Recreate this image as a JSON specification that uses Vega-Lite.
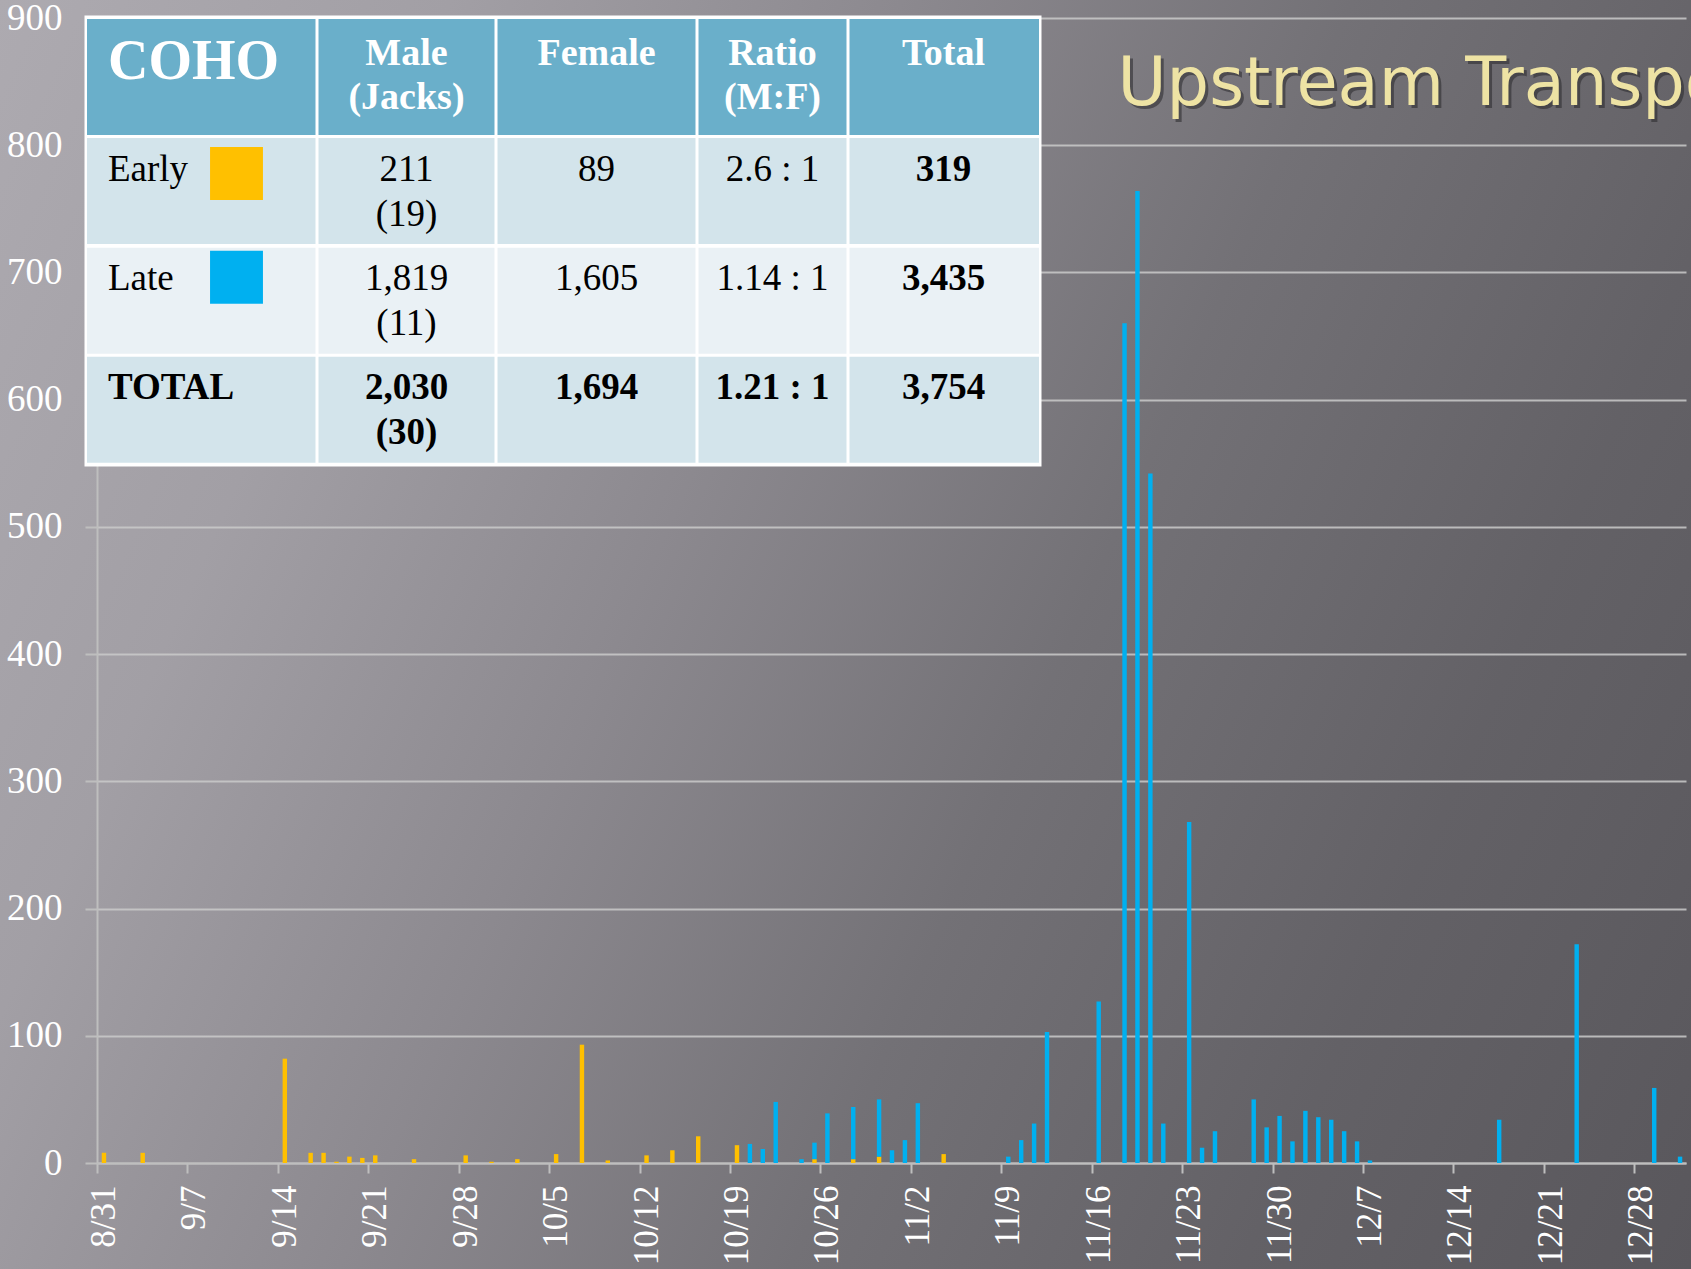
{
  "$schema": "https://vega.github.io/schema/vega-lite/v6.json",
  "width": 1691,
  "height": 1269,
  "autosize": {"type": "none"},
  "padding": 0,
  "background": "#7F7D83",
  "config": {
    "view": {
      "stroke": null,
      "fill": {
        "gradient": "linear", "x1": 0, "y1": 0, "x2": 1.2, "y2": 0.4,
        "stops": [
          {"offset": 0, "color": "#ADAAB0"},
          {"offset": 0.2, "color": "#A29FA5"},
          {"offset": 0.4, "color": "#8C898F"},
          {"offset": 0.6, "color": "#737176"},
          {"offset": 0.8, "color": "#636166"},
          {"offset": 1, "color": "#59575C"}
        ]
      }
    }
  },
  "datasets": {
    "bars": [
      {"date": "2014/08/31", "run": "Early", "count": 8},
      {"date": "2014/09/03", "run": "Early", "count": 8},
      {"date": "2014/09/14", "run": "Early", "count": 82},
      {"date": "2014/09/16", "run": "Early", "count": 8},
      {"date": "2014/09/17", "run": "Early", "count": 8},
      {"date": "2014/09/18", "run": "Early", "count": 1},
      {"date": "2014/09/19", "run": "Early", "count": 5},
      {"date": "2014/09/20", "run": "Early", "count": 4},
      {"date": "2014/09/21", "run": "Early", "count": 6},
      {"date": "2014/09/24", "run": "Early", "count": 3},
      {"date": "2014/09/28", "run": "Early", "count": 6},
      {"date": "2014/09/30", "run": "Early", "count": 1},
      {"date": "2014/10/02", "run": "Early", "count": 3},
      {"date": "2014/10/05", "run": "Early", "count": 7},
      {"date": "2014/10/07", "run": "Early", "count": 93},
      {"date": "2014/10/09", "run": "Early", "count": 2},
      {"date": "2014/10/12", "run": "Early", "count": 6},
      {"date": "2014/10/14", "run": "Early", "count": 10},
      {"date": "2014/10/16", "run": "Early", "count": 21},
      {"date": "2014/10/19", "run": "Early", "count": 14},
      {"date": "2014/10/25", "run": "Early", "count": 3},
      {"date": "2014/10/28", "run": "Early", "count": 3},
      {"date": "2014/10/30", "run": "Early", "count": 5},
      {"date": "2014/11/04", "run": "Early", "count": 7},
      {"date": "2014/10/20", "run": "Late", "count": 15},
      {"date": "2014/10/21", "run": "Late", "count": 11},
      {"date": "2014/10/22", "run": "Late", "count": 48},
      {"date": "2014/10/24", "run": "Late", "count": 3},
      {"date": "2014/10/25", "run": "Late", "count": 13},
      {"date": "2014/10/26", "run": "Late", "count": 39},
      {"date": "2014/10/28", "run": "Late", "count": 41},
      {"date": "2014/10/30", "run": "Late", "count": 45},
      {"date": "2014/10/31", "run": "Late", "count": 10},
      {"date": "2014/11/01", "run": "Late", "count": 18},
      {"date": "2014/11/02", "run": "Late", "count": 47},
      {"date": "2014/11/09", "run": "Late", "count": 5},
      {"date": "2014/11/10", "run": "Late", "count": 18},
      {"date": "2014/11/11", "run": "Late", "count": 31},
      {"date": "2014/11/12", "run": "Late", "count": 103},
      {"date": "2014/11/16", "run": "Late", "count": 127},
      {"date": "2014/11/18", "run": "Late", "count": 660},
      {"date": "2014/11/19", "run": "Late", "count": 764},
      {"date": "2014/11/20", "run": "Late", "count": 542},
      {"date": "2014/11/21", "run": "Late", "count": 31},
      {"date": "2014/11/23", "run": "Late", "count": 268},
      {"date": "2014/11/24", "run": "Late", "count": 12},
      {"date": "2014/11/25", "run": "Late", "count": 25},
      {"date": "2014/11/28", "run": "Late", "count": 50},
      {"date": "2014/11/29", "run": "Late", "count": 28},
      {"date": "2014/11/30", "run": "Late", "count": 37},
      {"date": "2014/12/01", "run": "Late", "count": 17},
      {"date": "2014/12/02", "run": "Late", "count": 41},
      {"date": "2014/12/03", "run": "Late", "count": 36},
      {"date": "2014/12/04", "run": "Late", "count": 34},
      {"date": "2014/12/05", "run": "Late", "count": 25},
      {"date": "2014/12/06", "run": "Late", "count": 17},
      {"date": "2014/12/07", "run": "Late", "count": 2},
      {"date": "2014/12/17", "run": "Late", "count": 34},
      {"date": "2014/12/23", "run": "Late", "count": 172},
      {"date": "2014/12/29", "run": "Late", "count": 59},
      {"date": "2014/12/31", "run": "Late", "count": 5}
    ],
    "table": [
      {"r": 0, "c": 0, "text": "COHO"},
      {"r": 0, "c": 1, "text": "Male\n(Jacks)"},
      {"r": 0, "c": 2, "text": "Female"},
      {"r": 0, "c": 3, "text": "Ratio\n(M:F)"},
      {"r": 0, "c": 4, "text": "Total"},
      {"r": 1, "c": 0, "text": "Early"},
      {"r": 1, "c": 1, "text": "211\n(19)"},
      {"r": 1, "c": 2, "text": "89"},
      {"r": 1, "c": 3, "text": "2.6 : 1"},
      {"r": 1, "c": 4, "text": "319"},
      {"r": 2, "c": 0, "text": "Late"},
      {"r": 2, "c": 1, "text": "1,819\n(11)"},
      {"r": 2, "c": 2, "text": "1,605"},
      {"r": 2, "c": 3, "text": "1.14 : 1"},
      {"r": 2, "c": 4, "text": "3,435"},
      {"r": 3, "c": 0, "text": "TOTAL"},
      {"r": 3, "c": 1, "text": "2,030\n(30)"},
      {"r": 3, "c": 2, "text": "1,694"},
      {"r": 3, "c": 3, "text": "1.21 : 1"},
      {"r": 3, "c": 4, "text": "3,754"}
    ]
  },
  "layer": [
    {
      "layer": [
        {
          "data": {"name": "bars"},
          "mark": {"type": "bar", "width": {"band": 0.42}},
          "encoding": {
            "x": {
              "field": "date", "type": "temporal", "timeUnit": "yearmonthdate",
              "scale": {"domain": [{"year": 2014, "month": 8, "date": 31}, {"year": 2015, "month": 1, "date": 1}], "range": [97, 1686]},
              "axis": {
                "values": [
                  {"year": 2014, "month": 8, "date": 31}, {"year": 2014, "month": 9, "date": 7},
                  {"year": 2014, "month": 9, "date": 14}, {"year": 2014, "month": 9, "date": 21},
                  {"year": 2014, "month": 9, "date": 28}, {"year": 2014, "month": 10, "date": 5},
                  {"year": 2014, "month": 10, "date": 12}, {"year": 2014, "month": 10, "date": 19},
                  {"year": 2014, "month": 10, "date": 26}, {"year": 2014, "month": 11, "date": 2},
                  {"year": 2014, "month": 11, "date": 9}, {"year": 2014, "month": 11, "date": 16},
                  {"year": 2014, "month": 11, "date": 23}, {"year": 2014, "month": 11, "date": 30},
                  {"year": 2014, "month": 12, "date": 7}, {"year": 2014, "month": 12, "date": 14},
                  {"year": 2014, "month": 12, "date": 21}, {"year": 2014, "month": 12, "date": 28}
                ],
                "format": "%-m/%-d",
                "offset": -106,
                "labelAngle": -90,
                "labelOffset": 6.5,
                "labelPadding": 12,
                "labelOverlap": false,
                "labelFlush": false,
                "labelFont": "Liberation Serif",
                "labelFontSize": 35,
                "labelColor": "#FFFFFF",
                "tickSize": 10,
                "tickWidth": 2,
                "tickColor": "#BEBEBE",
                "domainColor": "#BEBEBE",
                "domainWidth": 2,
                "grid": false,
                "title": null
              }
            },
            "y": {
              "field": "count", "type": "quantitative", "stack": "zero",
              "scale": {"domain": [0, 900], "nice": false, "range": [1163, 18]},
              "axis": {
                "values": [0, 100, 200, 300, 400, 500, 600, 700, 800, 900],
                "offset": -97,
                "grid": true,
                "gridColor": "#CACACA",
                "gridWidth": 2,
                "gridOpacity": 0.85,
                "domainColor": "#BEBEBE",
                "domainWidth": 2,
                "tickSize": 12,
                "tickWidth": 2,
                "tickColor": "#BEBEBE",
                "labelPadding": 23,
                "labelFont": "Liberation Serif",
                "labelFontSize": 37,
                "labelColor": "#FFFFFF",
                "labelOverlap": false,
                "title": null
              }
            },
            "color": {
              "field": "run", "type": "nominal",
              "scale": {"domain": ["Early", "Late"], "range": ["#FFC000", "#00B0F0"]},
              "legend": null
            },
            "order": {"field": "run", "type": "ordinal", "sort": "ascending"}
          }
        },
        {
          "data": {"values": [{"t": "Upstream Transport"}]},
          "mark": {"type": "text", "font": "DejaVu Sans", "fontSize": 67, "align": "left", "baseline": "alphabetic", "color": "#2A292C", "opacity": 0.55, "dx": 3, "dy": 3},
          "encoding": {
            "x": {"datum": {"year": 2014, "month": 11, "date": 18}, "type": "temporal"},
            "y": {"datum": 832, "type": "quantitative"},
            "text": {"field": "t"}
          }
        },
        {
          "data": {"values": [{"t": "Upstream Transport"}]},
          "mark": {"type": "text", "font": "DejaVu Sans", "fontSize": 67, "align": "left", "baseline": "alphabetic", "color": "#EEE3A4"},
          "encoding": {
            "x": {"datum": {"year": 2014, "month": 11, "date": 18}, "type": "temporal"},
            "y": {"datum": 832, "type": "quantitative"},
            "text": {"field": "t"}
          }
        }
      ]
    },
    {
      "data": {"values": [{}]},
      "mark": {"type": "rect", "color": "#FFFFFF", "stroke": "#FFFFFF", "strokeWidth": 5},
      "encoding": {
        "x": {"datum": -0.5, "type": "quantitative", "scale": {"domain": [-0.5, 0.5, 1.5, 2.5, 3.5, 4.5], "range": [87, 317, 496, 697, 848, 1039], "nice": false, "zero": false}, "axis": null},
        "x2": {"datum": 4.5},
        "y": {"datum": -0.5, "type": "quantitative", "scale": {"domain": [-0.5, 0.5, 1.5, 2.5, 3.5], "range": [18, 136, 246, 355.5, 464], "nice": false, "zero": false}, "axis": null},
        "y2": {"datum": 3.5}
      }
    },
    {
      "data": {"name": "table"},
      "transform": [{"filter": "datum.r == 0 && datum.c == 0"}],
      "mark": {"type": "rule", "color": "#6AAFCA", "strokeWidth": 116},
      "encoding": {
        "x": {"datum": -0.5, "type": "quantitative", "scale": {"domain": [-0.5, 0.5, 1.5, 2.5, 3.5, 4.5], "range": [87, 317, 496, 697, 848, 1039], "nice": false, "zero": false}, "axis": null},
        "x2": {"datum": 4.5},
        "y": {"field": "r", "type": "quantitative", "scale": {"domain": [-0.5, 0.5, 1.5, 2.5, 3.5], "range": [18, 136, 246, 355.5, 464], "nice": false, "zero": false}, "axis": null}
      }
    },
    {
      "data": {"name": "table"},
      "transform": [{"filter": "datum.c == 0 && (datum.r == 1 || datum.r == 3)"}],
      "mark": {"type": "rule", "color": "#D3E4EB", "strokeWidth": 106},
      "encoding": {
        "x": {"datum": -0.5, "type": "quantitative", "scale": {"domain": [-0.5, 0.5, 1.5, 2.5, 3.5, 4.5], "range": [87, 317, 496, 697, 848, 1039], "nice": false, "zero": false}, "axis": null},
        "x2": {"datum": 4.5},
        "y": {"field": "r", "type": "quantitative", "scale": {"domain": [-0.5, 0.5, 1.5, 2.5, 3.5], "range": [18, 136, 246, 355.5, 464], "nice": false, "zero": false}, "axis": null}
      }
    },
    {
      "data": {"name": "table"},
      "transform": [{"filter": "datum.c == 0 && datum.r == 2"}],
      "mark": {"type": "rule", "color": "#EAF1F5", "strokeWidth": 106},
      "encoding": {
        "x": {"datum": -0.5, "type": "quantitative", "scale": {"domain": [-0.5, 0.5, 1.5, 2.5, 3.5, 4.5], "range": [87, 317, 496, 697, 848, 1039], "nice": false, "zero": false}, "axis": null},
        "x2": {"datum": 4.5},
        "y": {"field": "r", "type": "quantitative", "scale": {"domain": [-0.5, 0.5, 1.5, 2.5, 3.5], "range": [18, 136, 246, 355.5, 464], "nice": false, "zero": false}, "axis": null}
      }
    },
    {
      "data": {"name": "table"},
      "transform": [{"filter": "datum.r == 0 && datum.c >= 1"}],
      "mark": {"type": "rule", "color": "#FFFFFF", "strokeWidth": 3},
      "encoding": {
        "x": {"field": "c", "type": "quantitative", "scale": {"domain": [1, 2, 3, 4], "range": [317, 496, 697, 848], "nice": false, "zero": false}, "axis": null},
        "y": {"datum": -0.5, "type": "quantitative", "scale": {"domain": [-0.5, 0.5, 1.5, 2.5, 3.5], "range": [18, 136, 246, 355.5, 464], "nice": false, "zero": false}, "axis": null},
        "y2": {"datum": 3.5}
      }
    },
    {
      "data": {"name": "table"},
      "transform": [{"filter": "datum.r == 0 && datum.c == 0"}],
      "mark": {"type": "text", "font": "Liberation Serif", "fontWeight": "bold", "fontSize": 56, "color": "#FFFFFF", "align": "left", "baseline": "alphabetic", "dx": -94, "dy": 2},
      "encoding": {
        "x": {"field": "c", "type": "quantitative", "scale": {"domain": [-0.5, 0.5, 1.5, 2.5, 3.5, 4.5], "range": [87, 317, 496, 697, 848, 1039], "nice": false, "zero": false}, "axis": null},
        "y": {"field": "r", "type": "quantitative", "scale": {"domain": [-0.5, 0.5, 1.5, 2.5, 3.5], "range": [18, 136, 246, 355.5, 464], "nice": false, "zero": false}, "axis": null},
        "text": {"field": "text"}
      }
    },
    {
      "data": {"name": "table"},
      "transform": [{"filter": "datum.r == 0 && datum.c >= 1"}],
      "mark": {"type": "text", "font": "Liberation Serif", "fontWeight": "bold", "fontSize": 38, "color": "#FFFFFF", "align": "center", "baseline": "alphabetic", "lineBreak": "\n", "lineHeight": 44, "dy": -12},
      "encoding": {
        "x": {"field": "c", "type": "quantitative", "scale": {"domain": [-0.5, 0.5, 1.5, 2.5, 3.5, 4.5], "range": [87, 317, 496, 697, 848, 1039], "nice": false, "zero": false}, "axis": null},
        "y": {"field": "r", "type": "quantitative", "scale": {"domain": [-0.5, 0.5, 1.5, 2.5, 3.5], "range": [18, 136, 246, 355.5, 464], "nice": false, "zero": false}, "axis": null},
        "text": {"field": "text"}
      }
    },
    {
      "data": {"name": "table"},
      "transform": [{"filter": "(datum.r == 1 || datum.r == 2) && datum.c == 0"}],
      "mark": {"type": "text", "font": "Liberation Serif", "fontSize": 37, "color": "#000000", "align": "left", "baseline": "alphabetic", "dx": -94, "dy": -10.5},
      "encoding": {
        "x": {"field": "c", "type": "quantitative", "scale": {"domain": [-0.5, 0.5, 1.5, 2.5, 3.5, 4.5], "range": [87, 317, 496, 697, 848, 1039], "nice": false, "zero": false}, "axis": null},
        "y": {"field": "r", "type": "quantitative", "scale": {"domain": [-0.5, 0.5, 1.5, 2.5, 3.5], "range": [18, 136, 246, 355.5, 464], "nice": false, "zero": false}, "axis": null},
        "text": {"field": "text"}
      }
    },
    {
      "data": {"name": "table"},
      "transform": [{"filter": "datum.r == 3 && datum.c == 0"}],
      "mark": {"type": "text", "font": "Liberation Serif", "fontWeight": "bold", "fontSize": 37, "color": "#000000", "align": "left", "baseline": "alphabetic", "dx": -94, "dy": -10.5},
      "encoding": {
        "x": {"field": "c", "type": "quantitative", "scale": {"domain": [-0.5, 0.5, 1.5, 2.5, 3.5, 4.5], "range": [87, 317, 496, 697, 848, 1039], "nice": false, "zero": false}, "axis": null},
        "y": {"field": "r", "type": "quantitative", "scale": {"domain": [-0.5, 0.5, 1.5, 2.5, 3.5], "range": [18, 136, 246, 355.5, 464], "nice": false, "zero": false}, "axis": null},
        "text": {"field": "text"}
      }
    },
    {
      "data": {"name": "table"},
      "transform": [{"filter": "(datum.r == 1 || datum.r == 2) && datum.c >= 1 && datum.c <= 3"}],
      "mark": {"type": "text", "font": "Liberation Serif", "fontSize": 37, "color": "#000000", "align": "center", "baseline": "alphabetic", "lineBreak": "\n", "lineHeight": 45, "dy": -10.5},
      "encoding": {
        "x": {"field": "c", "type": "quantitative", "scale": {"domain": [-0.5, 0.5, 1.5, 2.5, 3.5, 4.5], "range": [87, 317, 496, 697, 848, 1039], "nice": false, "zero": false}, "axis": null},
        "y": {"field": "r", "type": "quantitative", "scale": {"domain": [-0.5, 0.5, 1.5, 2.5, 3.5], "range": [18, 136, 246, 355.5, 464], "nice": false, "zero": false}, "axis": null},
        "text": {"field": "text"}
      }
    },
    {
      "data": {"name": "table"},
      "transform": [{"filter": "((datum.r == 1 || datum.r == 2) && datum.c == 4) || (datum.r == 3 && datum.c >= 1)"}],
      "mark": {"type": "text", "font": "Liberation Serif", "fontWeight": "bold", "fontSize": 37, "color": "#000000", "align": "center", "baseline": "alphabetic", "lineBreak": "\n", "lineHeight": 45, "dy": -10.5},
      "encoding": {
        "x": {"field": "c", "type": "quantitative", "scale": {"domain": [-0.5, 0.5, 1.5, 2.5, 3.5, 4.5], "range": [87, 317, 496, 697, 848, 1039], "nice": false, "zero": false}, "axis": null},
        "y": {"field": "r", "type": "quantitative", "scale": {"domain": [-0.5, 0.5, 1.5, 2.5, 3.5], "range": [18, 136, 246, 355.5, 464], "nice": false, "zero": false}, "axis": null},
        "text": {"field": "text"}
      }
    },
    {
      "data": {"name": "table"},
      "transform": [{"filter": "datum.r == 1 && datum.c == 0"}],
      "mark": {"type": "square", "filled": true, "opacity": 1, "size": 2800, "xOffset": 34.5, "yOffset": -17.5},
      "encoding": {
        "x": {"field": "c", "type": "quantitative", "scale": {"domain": [-0.5, 0.5, 1.5, 2.5, 3.5, 4.5], "range": [87, 317, 496, 697, 848, 1039], "nice": false, "zero": false}, "axis": null},
        "y": {"field": "r", "type": "quantitative", "scale": {"domain": [-0.5, 0.5, 1.5, 2.5, 3.5], "range": [18, 136, 246, 355.5, 464], "nice": false, "zero": false}, "axis": null},
        "color": {"field": "text", "type": "nominal", "scale": {"domain": ["Early", "Late"], "range": ["#FFC000", "#00B0F0"]}, "legend": null}
      }
    },
    {
      "data": {"name": "table"},
      "transform": [{"filter": "datum.r == 2 && datum.c == 0"}],
      "mark": {"type": "square", "filled": true, "opacity": 1, "size": 2800, "xOffset": 34.5, "yOffset": -23.5},
      "encoding": {
        "x": {"field": "c", "type": "quantitative", "scale": {"domain": [-0.5, 0.5, 1.5, 2.5, 3.5, 4.5], "range": [87, 317, 496, 697, 848, 1039], "nice": false, "zero": false}, "axis": null},
        "y": {"field": "r", "type": "quantitative", "scale": {"domain": [-0.5, 0.5, 1.5, 2.5, 3.5], "range": [18, 136, 246, 355.5, 464], "nice": false, "zero": false}, "axis": null},
        "color": {"field": "text", "type": "nominal", "scale": {"domain": ["Early", "Late"], "range": ["#FFC000", "#00B0F0"]}, "legend": null}
      }
    }
  ],
  "resolve": {
    "scale": {"x": "independent", "y": "independent", "color": "independent"},
    "axis": {"x": "independent", "y": "independent"}
  }
}
